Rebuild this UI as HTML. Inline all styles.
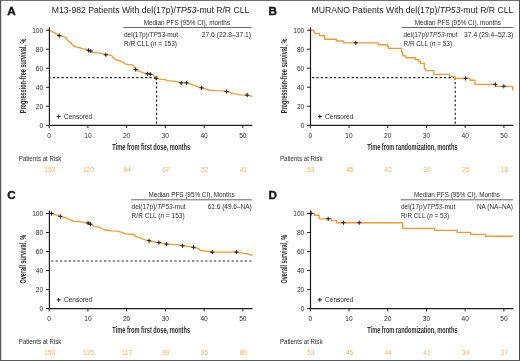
<!DOCTYPE html>
<html><head><meta charset="utf-8"><style>
html,body{margin:0;padding:0;background:#fff;}
svg{display:block;font-family:"Liberation Sans", sans-serif;}
body{-webkit-font-smoothing:antialiased;}
svg{will-change:transform;}
</style></head><body>
<svg width="520" height="361" viewBox="0 0 520 361" font-family='"Liberation Sans", sans-serif'>
<rect x="0" y="0" width="520" height="361" fill="#fff"/>
<path d="M49.4 77.6H156.55" stroke="#222" stroke-width="1.2" stroke-dasharray="2.2 2.2" stroke-dashoffset="1.1" fill="none"/>
<path d="M156.55 77.6V125.3" stroke="#222" stroke-width="1.2" stroke-dasharray="2.2 2.2" fill="none"/>
<path d="M49.5 30.2L52.6 31.8L55.7 33.3L59.2 35.6L62.6 36.4L64.9 36.8L66.5 38.7L68.8 41.4L71.1 43.3L73.4 46L75.7 46.8L78.8 47.5L82.6 48.7L86.5 49.5L88.5 50.3L90.8 51.1L93.5 52.5L96.5 52.8L100.4 53.2L105.8 54.8L109.6 54.8L111.9 55.9L113.5 57.8L115.8 59.8L118.8 60.5L121.9 61.7L125.1 63.8L128.2 64.5L132 64.9L133.5 65.7L135.7 69.5L138.9 71.1L142.8 72.6L147.4 73.8L150.3 74.2L153.2 74.5L154.3 76.1L156.2 78.2L158.5 78.8L162 79.4L165.4 79.7L166.9 80.6L175.4 81.4L178.5 82.2L181.2 82.9L186.5 82.9L189.2 83.5L192.3 84.7L196.2 86.2L198 87.1L201.5 87.8L205.7 88.8L209.5 90.2L217.2 90.7L223.4 90.9L226.5 91.5L230.3 92.6L234.2 93.8L238 94.2L239.8 94.8L247.2 95.1L252.5 96.3" stroke="#e89c42" stroke-width="1.35" fill="none" stroke-linejoin="round"/>
<path d="M57.1 35.6h4.2M59.2 33.5v4.2M86.4 50.3h4.2M88.5 48.2v4.2M88.7 51.1h4.2M90.8 49v4.2M103.7 54.8h4.2M105.8 52.7v4.2M133.6 69.5h4.2M135.7 67.4v4.2M145.3 73.8h4.2M147.4 71.7v4.2M148.2 74.2h4.2M150.3 72.1v4.2M154.1 78.2h4.2M156.2 76.1v4.2M179.1 82.9h4.2M181.2 80.8v4.2M184.4 82.9h4.2M186.5 80.8v4.2M199.4 87.8h4.2M201.5 85.7v4.2M224.4 91.5h4.2M226.5 89.4v4.2M245.1 95.1h4.2M247.2 93v4.2" stroke="#1a1a1a" stroke-width="1.0" fill="none"/>
<path d="M49.4 27.2V125.3H252.4" stroke="#1e1e1e" stroke-width="1.2" fill="none"/>
<path d="M46 125.3H49.4M49.2 125.3V128.1M46 106.28H49.4M87.92 125.3V128.1M46 87.26H49.4M126.64 125.3V128.1M46 68.24H49.4M165.36 125.3V128.1M46 49.22H49.4M204.08 125.3V128.1M46 30.2H49.4M242.8 125.3V128.1" stroke="#1e1e1e" stroke-width="1" fill="none"/>
<text x="43.2" y="127.8" font-size="6.6" text-anchor="end" fill="#2b2b2b">0</text>
<text x="49.2" y="137.7" font-size="6.6" text-anchor="middle" fill="#2b2b2b">0</text>
<text x="43.2" y="108.78" font-size="6.6" text-anchor="end" fill="#2b2b2b">20</text>
<text x="87.92" y="137.7" font-size="6.6" text-anchor="middle" fill="#2b2b2b">10</text>
<text x="43.2" y="89.76" font-size="6.6" text-anchor="end" fill="#2b2b2b">40</text>
<text x="126.64" y="137.7" font-size="6.6" text-anchor="middle" fill="#2b2b2b">20</text>
<text x="43.2" y="70.74" font-size="6.6" text-anchor="end" fill="#2b2b2b">60</text>
<text x="165.36" y="137.7" font-size="6.6" text-anchor="middle" fill="#2b2b2b">30</text>
<text x="43.2" y="51.72" font-size="6.6" text-anchor="end" fill="#2b2b2b">80</text>
<text x="204.08" y="137.7" font-size="6.6" text-anchor="middle" fill="#2b2b2b">40</text>
<text x="43.2" y="32.7" font-size="6.6" text-anchor="end" fill="#2b2b2b">100</text>
<text x="242.8" y="137.7" font-size="6.6" text-anchor="middle" fill="#2b2b2b">50</text>
<text x="112.3" y="149.6" font-size="9.3" textLength="77.8" lengthAdjust="spacingAndGlyphs" font-weight="bold" fill="#2b2b2b">Time from first dose, months</text>
<text transform="translate(26.3,113.3) rotate(-90)" font-size="9.1" font-weight="bold" textLength="74.6" lengthAdjust="spacingAndGlyphs" fill="#2b2b2b">Progression-free survival, %</text>
<path d="M56.7 116.5h4M58.7 114.5v4" stroke="#1a1a1a" stroke-width="1" fill="none"/>
<text x="64" y="118.9" font-size="7" textLength="28.2" lengthAdjust="spacingAndGlyphs" fill="#2b2b2b">Censored</text>
<text x="7.3" y="15.4" font-size="11.7" font-weight="bold" fill="#111" stroke="#111" stroke-width="0.35">A</text>
<text x="51.7" y="13.2" font-size="8.9" textLength="197.7" lengthAdjust="spacingAndGlyphs" fill="#222">M13-982 Patients With del(17p)/<tspan font-style="italic">TP53</tspan>-mut R/R CLL</text>
<text x="143.7" y="24.6" font-size="6.4" textLength="86.4" lengthAdjust="spacingAndGlyphs" fill="#2b2b2b">Median PFS (95% CI), months</text>
<path d="M123.3 27.5H251.2" stroke="#555" stroke-width="0.9" fill="none"/>
<text x="124" y="37" font-size="6.4" textLength="54" lengthAdjust="spacingAndGlyphs" fill="#2b2b2b">del(17p)/<tspan font-style="italic">TP53</tspan>-mut</text>
<text x="124" y="45.7" font-size="6.4" textLength="53" lengthAdjust="spacingAndGlyphs" fill="#2b2b2b">R/R CLL (<tspan font-style="italic">n</tspan> = 153)</text>
<text x="251" y="37" font-size="6.4" text-anchor="end" textLength="49.2" lengthAdjust="spacingAndGlyphs" fill="#2b2b2b">27.6 (22.8–37.1)</text>
<text x="18.8" y="160.8" font-size="6.9" textLength="42.6" lengthAdjust="spacingAndGlyphs" fill="#2b2b2b">Patients at Risk</text>
<text x="49.7" y="171.7" font-size="6.5" text-anchor="middle" fill="#f0b266">153</text>
<text x="88.42" y="171.7" font-size="6.5" text-anchor="middle" fill="#f0b266">120</text>
<text x="127.14" y="171.7" font-size="6.5" text-anchor="middle" fill="#f0b266">94</text>
<text x="165.86" y="171.7" font-size="6.5" text-anchor="middle" fill="#f0b266">67</text>
<text x="204.58" y="171.7" font-size="6.5" text-anchor="middle" fill="#f0b266">52</text>
<text x="243.3" y="171.7" font-size="6.5" text-anchor="middle" fill="#f0b266">41</text>
<path d="M310.5 77.6H455.21" stroke="#222" stroke-width="1.2" stroke-dasharray="2.2 2.2" stroke-dashoffset="2.9" fill="none"/>
<path d="M455.21 77.6V125.3" stroke="#222" stroke-width="1.2" stroke-dasharray="2.2 2.2" fill="none"/>
<path d="M310.6 30.2H313.6V31.9H314.9V33.6H319.5V35.6H324.5V39.2H336.3V41H343.6V42.8H378.2V44.7H387.4V46.5H388.6V48.4H401.6V52H402.6V55.8H406V57.7H415.3V59.5H418.6V61.4H420.3V63.3H424.3V68.8H425.8V70.6H433.8V74.4H449.6V76.4H454.4V78.4H470V80.2H475V84.4H495.8V86.3H512.6V90.6" stroke="#e89c42" stroke-width="1.35" fill="none" stroke-linejoin="round"/>
<path d="M353.7 42.8h4.2M355.8 40.7v4.2M463.5 78.4h4.2M465.6 76.3v4.2M493.2 84.4h4.2M495.3 82.3v4.2M501.7 86.3h4.2M503.8 84.2v4.2" stroke="#1a1a1a" stroke-width="1.0" fill="none"/>
<path d="M310.5 27.2V125.3H513.5" stroke="#1e1e1e" stroke-width="1.2" fill="none"/>
<path d="M307.1 125.3H310.5M310.3 125.3V128.1M307.1 106.28H310.5M349.02 125.3V128.1M307.1 87.26H310.5M387.74 125.3V128.1M307.1 68.24H310.5M426.46 125.3V128.1M307.1 49.22H310.5M465.18 125.3V128.1M307.1 30.2H310.5M503.9 125.3V128.1" stroke="#1e1e1e" stroke-width="1" fill="none"/>
<text x="304.3" y="127.8" font-size="6.6" text-anchor="end" fill="#2b2b2b">0</text>
<text x="310.3" y="137.7" font-size="6.6" text-anchor="middle" fill="#2b2b2b">0</text>
<text x="304.3" y="108.78" font-size="6.6" text-anchor="end" fill="#2b2b2b">20</text>
<text x="349.02" y="137.7" font-size="6.6" text-anchor="middle" fill="#2b2b2b">10</text>
<text x="304.3" y="89.76" font-size="6.6" text-anchor="end" fill="#2b2b2b">40</text>
<text x="387.74" y="137.7" font-size="6.6" text-anchor="middle" fill="#2b2b2b">20</text>
<text x="304.3" y="70.74" font-size="6.6" text-anchor="end" fill="#2b2b2b">60</text>
<text x="426.46" y="137.7" font-size="6.6" text-anchor="middle" fill="#2b2b2b">30</text>
<text x="304.3" y="51.72" font-size="6.6" text-anchor="end" fill="#2b2b2b">80</text>
<text x="465.18" y="137.7" font-size="6.6" text-anchor="middle" fill="#2b2b2b">40</text>
<text x="304.3" y="32.7" font-size="6.6" text-anchor="end" fill="#2b2b2b">100</text>
<text x="503.9" y="137.7" font-size="6.6" text-anchor="middle" fill="#2b2b2b">50</text>
<text x="367.3" y="149.6" font-size="9.3" textLength="90.2" lengthAdjust="spacingAndGlyphs" font-weight="bold" fill="#2b2b2b">Time from randomization, months</text>
<text transform="translate(287.4,113.3) rotate(-90)" font-size="9.1" font-weight="bold" textLength="74.6" lengthAdjust="spacingAndGlyphs" fill="#2b2b2b">Progression-free survival, %</text>
<path d="M317.8 116.5h4M319.8 114.5v4" stroke="#1a1a1a" stroke-width="1" fill="none"/>
<text x="325.1" y="118.9" font-size="7" textLength="28.2" lengthAdjust="spacingAndGlyphs" fill="#2b2b2b">Censored</text>
<text x="268.4" y="15.4" font-size="11.7" font-weight="bold" fill="#111" stroke="#111" stroke-width="0.35">B</text>
<text x="311.5" y="13.2" font-size="8.9" textLength="201.8" lengthAdjust="spacingAndGlyphs" fill="#222">MURANO Patients With del(17p)/<tspan font-style="italic">TP53</tspan>-mut R/R CLL</text>
<text x="414.7" y="24.6" font-size="6.4" textLength="86.3" lengthAdjust="spacingAndGlyphs" fill="#2b2b2b">Median PFS (95% CI), months</text>
<path d="M402.2 27.5H513.3" stroke="#555" stroke-width="0.9" fill="none"/>
<text x="403.5" y="37" font-size="6.4" textLength="54" lengthAdjust="spacingAndGlyphs" fill="#2b2b2b">del(17p)/<tspan font-style="italic">TP53</tspan>-mut</text>
<text x="403.5" y="45.7" font-size="6.4" textLength="48.6" lengthAdjust="spacingAndGlyphs" fill="#2b2b2b">R/R CLL (<tspan font-style="italic">n</tspan> = 53)</text>
<text x="513.3" y="37" font-size="6.4" text-anchor="end" textLength="49.2" lengthAdjust="spacingAndGlyphs" fill="#2b2b2b">37.4 (29.4–52.3)</text>
<text x="279.9" y="160.8" font-size="6.9" textLength="42.6" lengthAdjust="spacingAndGlyphs" fill="#2b2b2b">Patients at Risk</text>
<text x="310.8" y="171.7" font-size="6.5" text-anchor="middle" fill="#f0b266">53</text>
<text x="349.52" y="171.7" font-size="6.5" text-anchor="middle" fill="#f0b266">45</text>
<text x="388.24" y="171.7" font-size="6.5" text-anchor="middle" fill="#f0b266">42</text>
<text x="426.96" y="171.7" font-size="6.5" text-anchor="middle" fill="#f0b266">30</text>
<text x="465.68" y="171.7" font-size="6.5" text-anchor="middle" fill="#f0b266">25</text>
<text x="504.4" y="171.7" font-size="6.5" text-anchor="middle" fill="#f0b266">18</text>
<path d="M49.5 213.6L51.5 213.5L55.7 214.8L60.3 216.3L64.9 217.5L68 218.6L71.1 220.5L74.2 221.3L80.3 221.7L84.2 222.7L88.1 223L90.4 224.2L93.5 225.8L98.1 226.9L101.9 228.5L105 230L111.9 230.8L117.3 231.2L121.9 232.3L125.8 233.8L133.5 234.5L135.8 236.5L139.7 237.6L142.8 239.2L145.8 240.2L149.1 240.7L152.8 241.7L158.9 242.6L166.5 244.1L173.4 244.6L178.8 244.8L182.5 245.8L187.2 246.4L193.5 247.3L198.1 248.5L200.8 250.5L207.5 251.4L212.2 252.1L236.4 252.1L241.1 252.9L247.9 253.8L252.6 255.5" stroke="#e89c42" stroke-width="1.35" fill="none" stroke-linejoin="round"/>
<path d="M49.4 213.5h4.2M51.5 211.4v4.2M58.2 216.3h4.2M60.3 214.2v4.2M86 223h4.2M88.1 220.9v4.2M88.3 224.2h4.2M90.4 222.1v4.2M147 240.7h4.2M149.1 238.6v4.2M156.8 242.6h4.2M158.9 240.5v4.2M164.4 244.1h4.2M166.5 242v4.2M180.4 245.8h4.2M182.5 243.7v4.2M191.4 247.3h4.2M193.5 245.2v4.2M210.1 252.1h4.2M212.2 250v4.2M234.3 252.1h4.2M236.4 250v4.2" stroke="#1a1a1a" stroke-width="1.0" fill="none"/>
<path d="M49.4 210.5V308.6H252.4" stroke="#1e1e1e" stroke-width="1.2" fill="none"/>
<path d="M46 308.6H49.4M49.2 308.6V311.4M46 289.58H49.4M87.92 308.6V311.4M46 270.56H49.4M126.64 308.6V311.4M46 251.54H49.4M165.36 308.6V311.4M46 232.52H49.4M204.08 308.6V311.4M46 213.5H49.4M242.8 308.6V311.4" stroke="#1e1e1e" stroke-width="1" fill="none"/>
<text x="43.2" y="311.1" font-size="6.6" text-anchor="end" fill="#2b2b2b">0</text>
<text x="49.2" y="321" font-size="6.6" text-anchor="middle" fill="#2b2b2b">0</text>
<text x="43.2" y="292.08" font-size="6.6" text-anchor="end" fill="#2b2b2b">20</text>
<text x="87.92" y="321" font-size="6.6" text-anchor="middle" fill="#2b2b2b">10</text>
<text x="43.2" y="273.06" font-size="6.6" text-anchor="end" fill="#2b2b2b">40</text>
<text x="126.64" y="321" font-size="6.6" text-anchor="middle" fill="#2b2b2b">20</text>
<text x="43.2" y="254.04" font-size="6.6" text-anchor="end" fill="#2b2b2b">60</text>
<text x="165.36" y="321" font-size="6.6" text-anchor="middle" fill="#2b2b2b">30</text>
<text x="43.2" y="235.02" font-size="6.6" text-anchor="end" fill="#2b2b2b">80</text>
<text x="204.08" y="321" font-size="6.6" text-anchor="middle" fill="#2b2b2b">40</text>
<text x="43.2" y="216" font-size="6.6" text-anchor="end" fill="#2b2b2b">100</text>
<text x="242.8" y="321" font-size="6.6" text-anchor="middle" fill="#2b2b2b">50</text>
<text x="112.3" y="332.9" font-size="9.3" textLength="77.8" lengthAdjust="spacingAndGlyphs" font-weight="bold" fill="#2b2b2b">Time from first dose, months</text>
<text transform="translate(26.3,283.4) rotate(-90)" font-size="9.1" font-weight="bold" textLength="48.4" lengthAdjust="spacingAndGlyphs" fill="#2b2b2b">Overall survival, %</text>
<path d="M56.7 299.8h4M58.7 297.8v4" stroke="#1a1a1a" stroke-width="1" fill="none"/>
<text x="64" y="302.2" font-size="7" textLength="28.2" lengthAdjust="spacingAndGlyphs" fill="#2b2b2b">Censored</text>
<text x="7.3" y="198.7" font-size="11.7" font-weight="bold" fill="#111" stroke="#111" stroke-width="0.35">C</text>
<text x="148.6" y="196.9" font-size="6.4" textLength="86" lengthAdjust="spacingAndGlyphs" fill="#2b2b2b">Median PFS (95% CI), Months</text>
<path d="M131.2 199.8H251.8" stroke="#555" stroke-width="0.9" fill="none"/>
<text x="131.6" y="209.3" font-size="6.4" textLength="54" lengthAdjust="spacingAndGlyphs" fill="#2b2b2b">del(17p)/<tspan font-style="italic">TP53</tspan>-mut</text>
<text x="131.6" y="218" font-size="6.4" textLength="53" lengthAdjust="spacingAndGlyphs" fill="#2b2b2b">R/R CLL (<tspan font-style="italic">n</tspan> = 153)</text>
<text x="251.8" y="209.3" font-size="6.4" text-anchor="end" textLength="44.1" lengthAdjust="spacingAndGlyphs" fill="#2b2b2b">61.6 (49.6–NA)</text>
<text x="18.8" y="344.1" font-size="6.9" textLength="42.6" lengthAdjust="spacingAndGlyphs" fill="#2b2b2b">Patients at Risk</text>
<text x="49.7" y="355" font-size="6.5" text-anchor="middle" fill="#f0b266">153</text>
<text x="88.42" y="355" font-size="6.5" text-anchor="middle" fill="#f0b266">135</text>
<text x="127.14" y="355" font-size="6.5" text-anchor="middle" fill="#f0b266">117</text>
<text x="165.86" y="355" font-size="6.5" text-anchor="middle" fill="#f0b266">99</text>
<text x="204.58" y="355" font-size="6.5" text-anchor="middle" fill="#f0b266">85</text>
<text x="243.3" y="355" font-size="6.5" text-anchor="middle" fill="#f0b266">80</text>
<path d="M310.6 213.4H314.4V215.2H319.2V218.8H331.5V220.6H336.5V222.7H402.6V228.4H434.5V230.4H457.2V232.3H470.8V234.3H485.4V236.2H513.1" stroke="#e89c42" stroke-width="1.35" fill="none" stroke-linejoin="round"/>
<path d="M309 213.4h4.2M311.1 211.3v4.2M326.1 218.8h4.2M328.2 216.7v4.2M341.4 222.7h4.2M343.5 220.6v4.2M357.1 222.7h4.2M359.2 220.6v4.2" stroke="#1a1a1a" stroke-width="1.0" fill="none"/>
<path d="M310.5 210.5V308.6H513.5" stroke="#1e1e1e" stroke-width="1.2" fill="none"/>
<path d="M307.1 308.6H310.5M310.3 308.6V311.4M307.1 289.58H310.5M349.02 308.6V311.4M307.1 270.56H310.5M387.74 308.6V311.4M307.1 251.54H310.5M426.46 308.6V311.4M307.1 232.52H310.5M465.18 308.6V311.4M307.1 213.5H310.5M503.9 308.6V311.4" stroke="#1e1e1e" stroke-width="1" fill="none"/>
<text x="304.3" y="311.1" font-size="6.6" text-anchor="end" fill="#2b2b2b">0</text>
<text x="310.3" y="321" font-size="6.6" text-anchor="middle" fill="#2b2b2b">0</text>
<text x="304.3" y="292.08" font-size="6.6" text-anchor="end" fill="#2b2b2b">20</text>
<text x="349.02" y="321" font-size="6.6" text-anchor="middle" fill="#2b2b2b">10</text>
<text x="304.3" y="273.06" font-size="6.6" text-anchor="end" fill="#2b2b2b">40</text>
<text x="387.74" y="321" font-size="6.6" text-anchor="middle" fill="#2b2b2b">20</text>
<text x="304.3" y="254.04" font-size="6.6" text-anchor="end" fill="#2b2b2b">60</text>
<text x="426.46" y="321" font-size="6.6" text-anchor="middle" fill="#2b2b2b">30</text>
<text x="304.3" y="235.02" font-size="6.6" text-anchor="end" fill="#2b2b2b">80</text>
<text x="465.18" y="321" font-size="6.6" text-anchor="middle" fill="#2b2b2b">40</text>
<text x="304.3" y="216" font-size="6.6" text-anchor="end" fill="#2b2b2b">100</text>
<text x="503.9" y="321" font-size="6.6" text-anchor="middle" fill="#2b2b2b">50</text>
<text x="367.3" y="332.9" font-size="9.3" textLength="90.2" lengthAdjust="spacingAndGlyphs" font-weight="bold" fill="#2b2b2b">Time from randomization, months</text>
<text transform="translate(287.4,283.4) rotate(-90)" font-size="9.1" font-weight="bold" textLength="48.4" lengthAdjust="spacingAndGlyphs" fill="#2b2b2b">Overall survival, %</text>
<path d="M317.8 299.8h4M319.8 297.8v4" stroke="#1a1a1a" stroke-width="1" fill="none"/>
<text x="325.1" y="302.2" font-size="7" textLength="28.2" lengthAdjust="spacingAndGlyphs" fill="#2b2b2b">Censored</text>
<text x="268.4" y="198.7" font-size="11.7" font-weight="bold" fill="#111" stroke="#111" stroke-width="0.35">D</text>
<text x="414" y="196.9" font-size="6.4" textLength="86" lengthAdjust="spacingAndGlyphs" fill="#2b2b2b">Median PFS (95% CI), Months</text>
<path d="M400.8 199.8H513" stroke="#555" stroke-width="0.9" fill="none"/>
<text x="401" y="209.3" font-size="6.4" textLength="54.3" lengthAdjust="spacingAndGlyphs" fill="#2b2b2b">del(17p)/<tspan font-style="italic">TP53</tspan>-mut</text>
<text x="401" y="218" font-size="6.4" textLength="48.2" lengthAdjust="spacingAndGlyphs" fill="#2b2b2b">R/R CLL (<tspan font-style="italic">n</tspan> = 53)</text>
<text x="513" y="209.3" font-size="6.4" text-anchor="end" textLength="36.1" lengthAdjust="spacingAndGlyphs" fill="#2b2b2b">NA (NA–NA)</text>
<text x="279.9" y="344.1" font-size="6.9" textLength="42.6" lengthAdjust="spacingAndGlyphs" fill="#2b2b2b">Patients at Risk</text>
<text x="310.8" y="355" font-size="6.5" text-anchor="middle" fill="#f0b266">53</text>
<text x="349.52" y="355" font-size="6.5" text-anchor="middle" fill="#f0b266">45</text>
<text x="388.24" y="355" font-size="6.5" text-anchor="middle" fill="#f0b266">44</text>
<text x="426.96" y="355" font-size="6.5" text-anchor="middle" fill="#f0b266">41</text>
<text x="465.68" y="355" font-size="6.5" text-anchor="middle" fill="#f0b266">39</text>
<text x="504.4" y="355" font-size="6.5" text-anchor="middle" fill="#f0b266">37</text>
<path d="M49.4 261H252" stroke="#222" stroke-width="1.2" stroke-dasharray="2.2 2.2" stroke-dashoffset="2.6" fill="none"/>
<path d="M0 0.5H520" stroke="#707070"/><path d="M0.5 0V361" stroke="#555"/><path d="M1.5 1V360" stroke="#ddd"/><path d="M519.5 0V361" stroke="#4a4a4a"/><path d="M0 360.5H520" stroke="#5a5a5a"/>
</svg>
</body></html>
